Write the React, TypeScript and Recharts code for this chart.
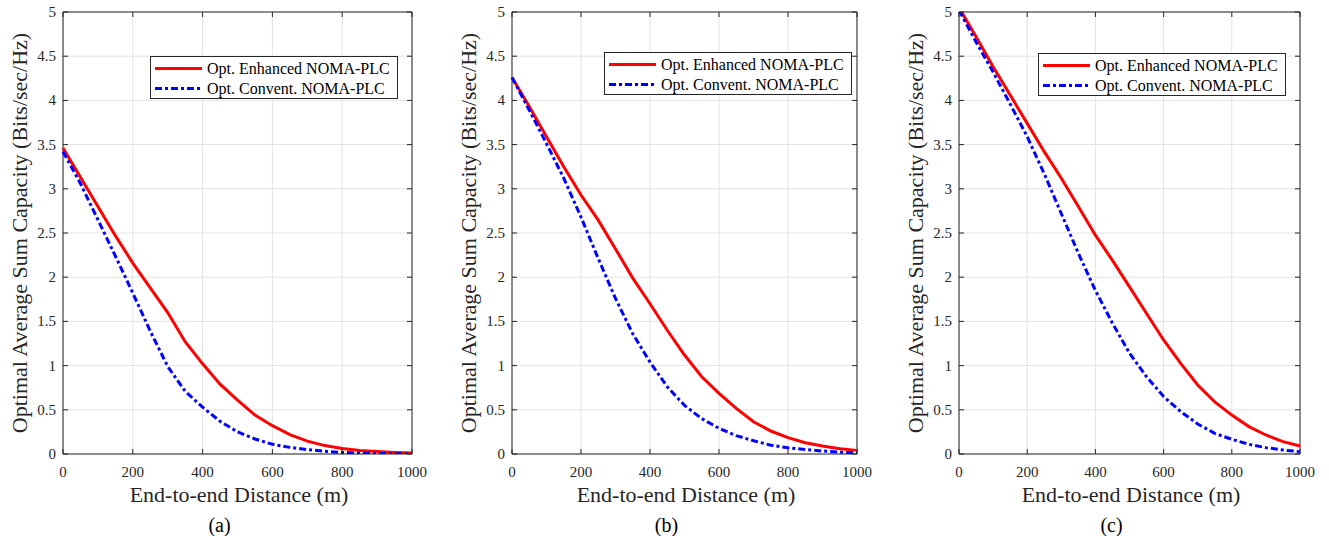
import React from 'react';
import { LineChart, Line, XAxis, YAxis, CartesianGrid, ReferenceArea } from 'recharts';

const distances = [0, 50, 100, 150, 200, 250, 300, 350, 400, 450, 500, 550, 600, 650, 700, 750, 800, 850, 900, 950, 1000];

const enhancedA = [3.46, 3.13, 2.8, 2.47, 2.16, 1.88, 1.6, 1.27, 1.02, 0.79, 0.61, 0.44, 0.32, 0.22, 0.145, 0.095, 0.062, 0.04, 0.027, 0.018, 0.012];
const conventA = [3.42, 3.06, 2.65, 2.24, 1.82, 1.39, 0.99, 0.71, 0.53, 0.37, 0.25, 0.17, 0.11, 0.075, 0.05, 0.03, 0.018, 0.01, 0.006, 0.003, 0.001];

const enhancedB = [4.26, 3.93, 3.59, 3.25, 2.93, 2.645, 2.32, 1.99, 1.7, 1.4, 1.12, 0.874, 0.686, 0.516, 0.365, 0.26, 0.185, 0.128, 0.09, 0.06, 0.041];
const conventB = [4.26, 3.89, 3.51, 3.12, 2.68, 2.21, 1.76, 1.36, 1.04, 0.76, 0.55, 0.4, 0.29, 0.207, 0.15, 0.1, 0.07, 0.05, 0.034, 0.02, 0.015];

const enhancedC = [5.05, 4.72, 4.38, 4.06, 3.74, 3.42, 3.12, 2.8, 2.475, 2.19, 1.89, 1.59, 1.29, 1.025, 0.78, 0.59, 0.44, 0.31, 0.215, 0.14, 0.09];
const conventC = [5.02, 4.66, 4.32, 3.96, 3.59, 3.17, 2.72, 2.27, 1.85, 1.48, 1.14, 0.874, 0.65, 0.48, 0.34, 0.234, 0.166, 0.11, 0.072, 0.045, 0.026];

const xTicks = [0, 200, 400, 600, 800, 1000];
const xTickLabels = ['0', '200', '400', '600', '800', '1000'];
const yTicks = [0, 0.5, 1, 1.5, 2, 2.5, 3, 3.5, 4, 4.5, 5];
const yTickLabels = ['0', '0.5', '1', '1.5', '2', '2.5', '3', '3.5', '4', '4.5', '5'];
const seriesNames = ['Opt. Enhanced NOMA-PLC', 'Opt. Convent. NOMA-PLC'];
const captions = ['(a)', '(b)', '(c)'];
const xAxisTitle = 'End-to-end Distance (m)';
const yAxisTitle = 'Optimal Average Sum Capacity (Bits/sec/Hz)';

const FONT = '"Liberation Serif", "Times New Roman", Times, serif';
const AXIS = '#262626';
const GRID = '#e3e3e3';
const RED = '#ff0000';
const BLUE = '#0000ff';
const BLUE_DASH = '7 3 3 3';
const LW = 3;

const TOP = 12;
const BOTTOM = 454;
const PH = BOTTOM - TOP;
const PAD_L = 60;
const PAD_R = 20;
const Y_W = 30;
const X_H = 30;

const panels = [
  { left: 63, right: 412, enh: enhancedA, conv: conventA, legend: { x: 150, y: 56 } },
  { left: 512, right: 857, enh: enhancedB, conv: conventB, legend: { x: 604, y: 52 } },
  { left: 959, right: 1300, enh: enhancedC, conv: conventC, legend: { x: 1038, y: 52.5 } },
];

function LegendBox({ x, y }: { x: number; y: number }) {
  const w = 248;
  const h = 43;
  return (
    <svg style={{ position: 'absolute', left: x, top: y }} width={w} height={h}>
      <rect x={0.5} y={0.5} width={w - 1} height={h - 1} fill="#ffffff" stroke={AXIS} strokeWidth={1} />
      <line x1={5} x2={52} y1={12.5} y2={12.5} stroke={RED} strokeWidth={LW} />
      <text x={57} y={12.5} dominantBaseline="central" fontFamily={FONT} fontSize={16} fill="#000">{seriesNames[0]}</text>
      <line x1={5} x2={52} y1={32.5} y2={32.5} stroke={BLUE} strokeWidth={LW} strokeDasharray={BLUE_DASH} />
      <text x={57} y={32.5} dominantBaseline="central" fontFamily={FONT} fontSize={16} fill="#000">{seriesNames[1]}</text>
    </svg>
  );
}

function Panel({ p, idx }: { p: any; idx: number }) {
  const pw = p.right - p.left;
  const cw = pw + PAD_L + PAD_R;
  const data = distances.map((d, i) => ({ x: d, enh: p.enh[i], conv: p.conv[i] }));

  const YTick = (props: any) => {
    const { x, y, payload } = props;
    const k = yTicks.indexOf(payload.value);
    return (
      <g>
        <line x1={x} x2={x + 5} y1={y} y2={y} stroke={AXIS} strokeWidth={1} />
        <line x1={x + pw} x2={x + pw - 5} y1={y} y2={y} stroke={AXIS} strokeWidth={1} />
        <text x={x - 7} y={y} textAnchor="end" dominantBaseline="central" fontFamily={FONT} fontSize={15} fill={AXIS}>
          {k >= 0 ? yTickLabels[k] : String(payload.value)}
        </text>
      </g>
    );
  };

  const XTick = (props: any) => {
    const { x, y, payload } = props;
    const k = xTicks.indexOf(payload.value);
    return (
      <g>
        <line x1={x} x2={x} y1={y} y2={y - 5} stroke={AXIS} strokeWidth={1} />
        <line x1={x} x2={x} y1={y - PH} y2={y - PH + 5} stroke={AXIS} strokeWidth={1} />
        <text x={x} y={y + 17.5} textAnchor="middle" dominantBaseline="central" fontFamily={FONT} fontSize={15} fill={AXIS}>
          {k >= 0 ? xTickLabels[k] : String(payload.value)}
        </text>
      </g>
    );
  };

  const cx = (p.left + p.right) / 2;

  return (
    <>
      <div style={{ position: 'absolute', left: p.left - PAD_L, top: 0 }}>
        <LineChart
          width={cw}
          height={536}
          data={data}
          margin={{ top: TOP, right: PAD_R, left: PAD_L - Y_W, bottom: 536 - BOTTOM - X_H }}
        >
          <CartesianGrid stroke={GRID} strokeWidth={1} />
          <XAxis
            dataKey="x"
            type="number"
            domain={[0, 1000]}
            ticks={xTicks}
            interval={0}
            height={X_H}
            axisLine={false}
            tickLine={false}
            tickSize={0}
            tickMargin={0}
            tick={<XTick />}
          />
          <YAxis
            type="number"
            domain={[0, 5]}
            ticks={yTicks}
            interval={0}
            width={Y_W}
            allowDataOverflow
            axisLine={false}
            tickLine={false}
            tickSize={0}
            tickMargin={0}
            tick={<YTick />}
          />
          <Line
            type="linear"
            dataKey="enh"
            stroke={RED}
            strokeWidth={LW}
            dot={false}
            activeDot={false}
            isAnimationActive={false}
          />
          <Line
            type="linear"
            dataKey="conv"
            stroke={BLUE}
            strokeWidth={LW}
            strokeDasharray={BLUE_DASH}
            dot={false}
            activeDot={false}
            isAnimationActive={false}
          />
          <ReferenceArea x1={0} x2={1000} y1={0} y2={5} fill="none" fillOpacity={0} stroke={AXIS} strokeWidth={1} />
        </LineChart>
      </div>
      <LegendBox x={p.legend.x} y={p.legend.y} />
      <div
        style={{
          position: 'absolute',
          left: p.left - 43,
          top: (TOP + BOTTOM) / 2,
          transform: 'translate(-50%, -50%) rotate(-90deg)',
          whiteSpace: 'nowrap',
          fontFamily: FONT,
          fontSize: 22,
          lineHeight: 1,
          color: AXIS,
        }}
      >
        {yAxisTitle}
      </div>
      <div
        style={{
          position: 'absolute',
          left: cx + 1.5,
          top: 495,
          transform: 'translate(-50%, -50%)',
          whiteSpace: 'nowrap',
          fontFamily: FONT,
          fontSize: 22,
          lineHeight: 1,
          color: AXIS,
        }}
      >
        {xAxisTitle}
      </div>
      <div
        style={{
          position: 'absolute',
          left: cx - 18,
          top: 525,
          transform: 'translate(-50%, -50%)',
          whiteSpace: 'nowrap',
          fontFamily: FONT,
          fontSize: 20,
          lineHeight: 1,
          color: '#000',
        }}
      >
        {captions[idx]}
      </div>
    </>
  );
}

export default function App() {
  return (
    <div style={{ position: 'absolute', left: 0, top: 0, width: 1329, height: 536, background: '#ffffff', overflow: 'hidden' }}>
      {panels.map((p, i) => (
        <Panel key={i} p={p} idx={i} />
      ))}
    </div>
  );
}
